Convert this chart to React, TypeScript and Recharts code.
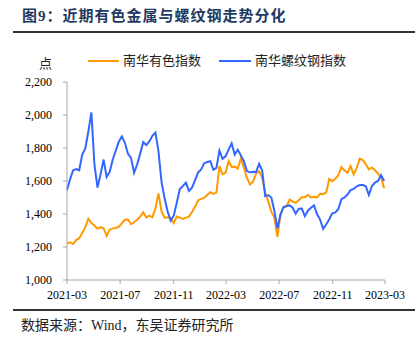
import { LineChart, Line, XAxis, YAxis } from 'recharts';

const dates = [
  '2021-03-01', '2021-03-08', '2021-03-15', '2021-03-22', '2021-03-29',
  '2021-04-05', '2021-04-12', '2021-04-19', '2021-04-26',
  '2021-05-03', '2021-05-10', '2021-05-17', '2021-05-24', '2021-05-31',
  '2021-06-07', '2021-06-14', '2021-06-21', '2021-06-28',
  '2021-07-05', '2021-07-12', '2021-07-19', '2021-07-26',
  '2021-08-02', '2021-08-09', '2021-08-16', '2021-08-23', '2021-08-30',
  '2021-09-06', '2021-09-13', '2021-09-20', '2021-09-27',
  '2021-10-04', '2021-10-11', '2021-10-18', '2021-10-25',
  '2021-11-01', '2021-11-08', '2021-11-15', '2021-11-22', '2021-11-29',
  '2021-12-06', '2021-12-13', '2021-12-20', '2021-12-27',
  '2022-01-03', '2022-01-10', '2022-01-17', '2022-01-24', '2022-01-31',
  '2022-02-07', '2022-02-14', '2022-02-21', '2022-02-28',
  '2022-03-07', '2022-03-14', '2022-03-21', '2022-03-28',
  '2022-04-04', '2022-04-11', '2022-04-18', '2022-04-25',
  '2022-05-02', '2022-05-09', '2022-05-16', '2022-05-23', '2022-05-30',
  '2022-06-06', '2022-06-13', '2022-06-20', '2022-06-27',
  '2022-07-04', '2022-07-11', '2022-07-18', '2022-07-25',
  '2022-08-01', '2022-08-08', '2022-08-15', '2022-08-22', '2022-08-29',
  '2022-09-05', '2022-09-12', '2022-09-19', '2022-09-26',
  '2022-10-03', '2022-10-10', '2022-10-17', '2022-10-24', '2022-10-31',
  '2022-11-07', '2022-11-14', '2022-11-21', '2022-11-28',
  '2022-12-05', '2022-12-12', '2022-12-19', '2022-12-26',
  '2023-01-02', '2023-01-09', '2023-01-16', '2023-01-23', '2023-01-30',
  '2023-02-06', '2023-02-13', '2023-02-20', '2023-02-27',
];

// 南华有色指数
const nonferrous = [
  1222, 1228, 1218, 1242, 1253, 1285, 1320, 1370, 1345, 1330,
  1310, 1320, 1313, 1268, 1305, 1313, 1315, 1323, 1343, 1366,
  1365, 1338, 1350, 1365, 1384, 1410, 1380, 1390, 1380, 1435,
  1525, 1415, 1378, 1380, 1374, 1345, 1385, 1378, 1370, 1378,
  1384, 1412, 1444, 1483, 1492, 1498, 1515, 1532, 1522, 1530,
  1690, 1640, 1650, 1720, 1685, 1687, 1675, 1735, 1680, 1620,
  1578, 1596, 1644, 1660, 1620, 1530, 1478, 1414, 1378, 1262,
  1396, 1442, 1446, 1488, 1475, 1468, 1484, 1502, 1502, 1515,
  1500, 1505, 1500, 1522, 1520, 1530, 1612, 1598, 1614, 1636,
  1684, 1664, 1650, 1690, 1640, 1678, 1735, 1727, 1702, 1670,
  1682, 1665, 1645, 1620, 1556,
];

// 南华螺纹钢指数
const rebar = [
  1545, 1610, 1665, 1672, 1665, 1760, 1798, 1900, 2015, 1700,
  1560, 1640, 1730, 1625, 1655, 1730, 1785, 1838, 1870, 1830,
  1765, 1740, 1650, 1700, 1766, 1835, 1818, 1840, 1874, 1893,
  1780, 1595, 1495, 1415, 1360, 1390, 1468, 1552, 1570, 1590,
  1540, 1560, 1606, 1652, 1670, 1708, 1715, 1720, 1668, 1680,
  1785, 1735, 1750, 1790, 1828, 1760, 1790, 1755, 1720, 1660,
  1652, 1656, 1654, 1704, 1665, 1508, 1515, 1500, 1420, 1313,
  1396, 1442, 1448, 1452, 1438, 1402, 1432, 1433, 1387, 1420,
  1438, 1452, 1400, 1366, 1310, 1336, 1368, 1404, 1410, 1430,
  1490, 1500, 1518, 1545, 1552, 1568, 1576, 1576, 1568, 1515,
  1570, 1590, 1600, 1635, 1600,
];

const xTicks = ['2021-03-01', '2021-07-01', '2021-11-01', '2022-03-01', '2022-07-01', '2022-11-01', '2023-03-01'];
const yTicks = [1000, 1200, 1400, 1600, 1800, 2000, 2200];

const ORANGE = '#ff9900';
const BLUE = '#3366ff';
const SERIF = "'Liberation Serif', 'Noto Sans CJK SC', serif";
const CJK = "'Liberation Serif', 'Noto Sans CJK SC', sans-serif";

const toTime = (d: string) => Date.parse(d + 'T00:00:00Z');

const data = dates.map((d, i) => ({
  t: toTime(d),
  nonferrous: nonferrous[i],
  rebar: rebar[i],
}));

const fmtMonth = (v: number) => new Date(v).toISOString().slice(0, 7);

export default function App() {
  const tickStyle = { fontSize: 12, fontFamily: SERIF, fill: '#000' };
  return (
    <div style={{ position: 'absolute', left: 0, top: 0, width: 420, height: 344, background: '#fff' }}>
      <div style={{ position: 'absolute', left: 22, top: 9, fontSize: 15, lineHeight: '15px', fontWeight: 'bold', letterSpacing: 1, color: '#1f3a60', fontFamily: CJK, whiteSpace: 'nowrap' }}>
        图9：近期有色金属与螺纹钢走势分化
      </div>
      <div style={{ position: 'absolute', left: 13, top: 31, width: 402, height: 2, background: '#333' }} />

      <div style={{ position: 'absolute', left: 39, top: 56, fontSize: 13, lineHeight: '15px', fontFamily: CJK, color: '#222' }}>点</div>
      <div style={{ position: 'absolute', left: 88, top: 60, width: 31, height: 2, background: ORANGE }} />
      <div style={{ position: 'absolute', left: 123, top: 53, fontSize: 13, lineHeight: '15px', fontFamily: CJK, color: '#222', whiteSpace: 'nowrap' }}>南华有色指数</div>
      <div style={{ position: 'absolute', left: 219, top: 60, width: 32, height: 2, background: BLUE }} />
      <div style={{ position: 'absolute', left: 255, top: 53, fontSize: 13, lineHeight: '15px', fontFamily: CJK, color: '#222', whiteSpace: 'nowrap' }}>南华螺纹钢指数</div>

      <div style={{ position: 'absolute', left: 0, top: 0 }}>
        <LineChart width={420} height={344} data={data} margin={{ top: 82, right: 35, bottom: 34, left: 0 }}>
          <XAxis
            dataKey="t"
            type="number"
            scale="time"
            domain={[toTime(xTicks[0]), toTime(xTicks[xTicks.length - 1])]}
            ticks={xTicks.map(toTime)}
            tickFormatter={fmtMonth}
            height={30}
            tick={tickStyle}
            tickSize={4}
            tickMargin={6}
            stroke="#a6a6a6"
            interval={0}
          />
          <YAxis
            type="number"
            domain={[1000, 2200]}
            ticks={yTicks}
            tickFormatter={(v: number) => v.toLocaleString('en-US')}
            width={67}
            tick={tickStyle}
            tickSize={4}
            tickMargin={11}
            stroke="#a6a6a6"
            interval={0}
          />
          <Line type="linear" dataKey="nonferrous" stroke={ORANGE} strokeWidth={2} dot={false} isAnimationActive={false} />
          <Line type="linear" dataKey="rebar" stroke={BLUE} strokeWidth={2} dot={false} isAnimationActive={false} />
        </LineChart>
      </div>

      <div style={{ position: 'absolute', left: 13, top: 309, width: 402, height: 2, background: '#333' }} />
      <div style={{ position: 'absolute', left: 21, top: 318, fontSize: 14, lineHeight: '15px', fontFamily: CJK, color: '#222', whiteSpace: 'nowrap' }}>
        数据来源：Wind，东吴证券研究所
      </div>
    </div>
  );
}
